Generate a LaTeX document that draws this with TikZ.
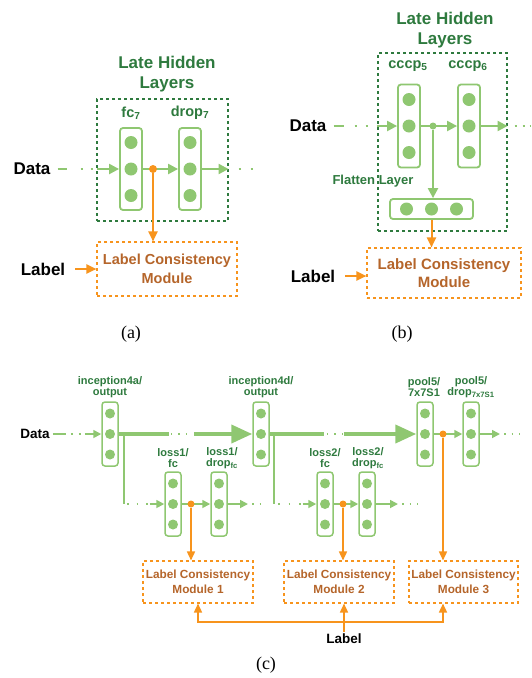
\documentclass[tikz,border=0pt]{standalone}
\usepackage{fontspec}
\setmainfont{Liberation Serif}
\setsansfont{Liberation Sans}
\usepackage{tikz}
\usetikzlibrary{arrows.meta,calc,positioning}

\definecolor{lgreen}{RGB}{143,199,113}
\definecolor{dgreen}{RGB}{46,122,62}
\definecolor{lorange}{RGB}{247,148,29}
\definecolor{lbrown}{RGB}{181,101,42}

\tikzset{
  layer/.style={draw=lgreen,line width=1.8pt,rounded corners=3pt,minimum width=22pt,minimum height=82pt,inner sep=0pt},
  slayer/.style={layer,line width=1.5pt,minimum width=16pt,minimum height=64pt},
  neuron/.style={circle,fill=lgreen,minimum size=13pt,inner sep=0pt},
  sneuron/.style={neuron,minimum size=10pt},
  hidbox/.style={draw=dgreen,dashed,line width=1.1pt,inner sep=0pt},
  lcbox/.style={draw=lorange,dashed,line width=1.1pt,inner sep=0pt,text=lbrown,align=center,
    font=\sffamily\bfseries\fontsize{14.5}{19}\selectfont},
  slcbox/.style={lcbox,font=\sffamily\bfseries\fontsize{11.8}{15}\selectfont},
  title/.style={text=dgreen,align=center,font=\sffamily\bfseries\fontsize{17}{20.5}\selectfont},
  lname/.style={text=dgreen,font=\sffamily\bfseries\fontsize{14.5}{17}\selectfont},
  slname/.style={text=dgreen,align=center,font=\sffamily\bfseries\fontsize{11}{11.5}\selectfont},
  io/.style={inner sep=2pt,font=\sffamily\bfseries\fontsize{17}{20}\selectfont},
  sio/.style={io,font=\sffamily\bfseries\fontsize{13.5}{16}\selectfont},
  capt/.style={font=\fontsize{18}{20}\selectfont},
  gline/.style={draw=lgreen,line width=2.2pt},
  garr/.style={gline,-{Triangle[length=10pt,width=10pt]}},
  sgline/.style={draw=lgreen,line width=1.7pt},
  sgarr/.style={sgline,-{Triangle[length=8pt,width=8pt]}},
  bigarr/.style={draw=lgreen,line width=4pt,-{Triangle[length=21pt,width=18pt]}},
  oarr/.style={draw=lorange,line width=2pt,-{Triangle[length=10pt,width=9pt]}},
  soarr/.style={draw=lorange,line width=1.6pt,-{Triangle[length=9pt,width=8pt]}},
  odot/.style={circle,fill=lorange,minimum size=8pt,inner sep=0pt},
  gdot/.style={circle,fill=lgreen,minimum size=7pt,inner sep=0pt},
}

\begin{document}
\begin{tikzpicture}[x=1pt,y=-1pt]
\useasboundingbox (0,0) rectangle (531,678);
%
% (a)
\node[title] (titleA) at (167,74) {Late Hidden\\Layers};
\node[hidbox,minimum width=131pt,minimum height=122pt] (boxA) at (162.5,160) {};
\node[lname] (fc7lab) at (131,113) {fc\textsubscript{7}};
\node[lname] (drop7lab) at (190,113) {drop\textsubscript{7}};
\node[layer] (fc7) at (131,169) {};
\node[layer] (drop7) at (190,169) {};
\node[io] (dataA) at (32,169) {Data};
\node[lcbox,minimum width=140pt,minimum height=54pt] (lcmA) at (167,269) {Label Consistency\\Module};
\node[io] (labA) at (43,269) {Label};
\coordinate (outA) at (255,169);
%
\draw[garr,shorten <=5pt,dash pattern=on 9pt off 14pt on 2pt off 8pt on 2pt off 4pt on 200pt] (dataA) -- (fc7);
\draw[garr] (fc7) -- (drop7);
\draw[garr] (drop7) -- (boxA.east |- drop7);
\draw[gline,dash pattern=on 0pt off 10pt on 2pt off 10pt on 2pt off 10pt] (boxA.east |- drop7) -- (outA);
\node[odot] (dA) at (153,169) {};
\draw[oarr] (dA) -- (dA |- lcmA.north);
\draw[oarr,shorten <=8pt] (labA) -- (labA -| lcmA.west);
\node[capt] (capA) at (131,334) {(a)};
%
% (b)
\node[title] (titleB) at (445,30) {Late Hidden\\Layers};
\node[hidbox,minimum width=129pt,minimum height=178pt] (boxB) at (442.5,142) {};
\node[lname] (c5lab) at (408,66) {cccp\textsubscript{5}};
\node[lname] (c6lab) at (468,66) {cccp\textsubscript{6}};
\node[layer,minimum height=83pt] (cccp5) at (409,126) {};
\node[layer,minimum height=83pt] (cccp6) at (469,126) {};
\node[io] (dataB) at (308,126) {Data};
\node[text=dgreen,font=\sffamily\bfseries\fontsize{13}{15}\selectfont] (flatlab) at (373,181) {Flatten Layer};
\node[layer,minimum width=83pt,minimum height=20pt] (flat) at (431.5,209) {};
\node[lcbox,minimum width=154pt,minimum height=50pt,font=\sffamily\bfseries\fontsize{15}{18}\selectfont] (lcmB) at (444,273) {Label Consistency\\Module};
\node[io] (labB) at (313,276) {Label};
\coordinate (outB) at (531,126);
%
\draw[garr,shorten <=5pt,dash pattern=on 10pt off 11pt on 2pt off 9pt on 2pt off 9pt on 200pt] (dataB) -- (cccp5);
\draw[garr] (cccp5) -- (cccp6);
\draw[garr] (cccp6) -- (boxB.east |- cccp6);
\draw[gline,dash pattern=on 0pt off 7pt on 2pt off 6pt on 2pt off 5pt on 10pt] (boxB.east |- cccp6) -- (outB);
\node[gdot] (dB) at (433,126) {};
\draw[garr] (dB) -- (dB |- flat.north);
\draw[oarr] (flat.south) -- (flat.south |- lcmB.north);
\draw[oarr,shorten <=8pt] (labB) -- (labB -| lcmB.west);
\node[capt] (capB) at (402,334) {(b)};
%
% neurons of (a) and (b)
\foreach \c in {fc7,drop7,cccp5,cccp6}
  \foreach \n/\d in {a/-26.5,b/0,c/26.5}
    \node[neuron] (\c\n) at ($(\c)+(0,\d)$) {};
\foreach \n/\d in {a/-25,b/0,c/25}
  \node[neuron] (flat\n) at ($(flat)+(\d,0)$) {};
%
% (c)
\node[sio] (dataC) at (35,434) {Data};
\node[slayer] (inc4a) at (110,434) {};
\node[slayer] (inc4d) at (261,434) {};
\node[slayer] (pool5) at (425,434) {};
\node[slayer] (pdrop) at (471,434) {};
\node[slayer] (l1fc) at (173,504) {};
\node[slayer] (l1drop) at (219,504) {};
\node[slayer] (l2fc) at (325,504) {};
\node[slayer] (l2drop) at (367,504) {};
\node[slname] (inc4alab) at (110,387) {inception4a/\\output};
\node[slname] (inc4dlab) at (261,387) {inception4d/\\output};
\node[slname] (pool5lab) at (424,387) {pool5/\\7x7S1};
\node[slname] (pdroplab) at (471,387) {pool5/\\drop\textsubscript{7x7S1}};
\node[slname] (l1fclab) at (173,458) {loss1/\\fc};
\node[slname] (l1droplab) at (222,458) {loss1/\\drop\textsubscript{fc}};
\node[slname] (l2fclab) at (325,458) {loss2/\\fc};
\node[slname] (l2droplab) at (368,458) {loss2/\\drop\textsubscript{fc}};
\foreach \c in {inc4a,inc4d,pool5,pdrop,l1fc,l1drop,l2fc,l2drop}
  \foreach \n/\d in {a/-20.5,b/0,c/20.5}
    \node[sneuron] (\c\n) at ($(\c)+(0,\d)$) {};
\node[slcbox,minimum width=110pt,minimum height=42pt] (lcm1) at (198,582) {Label Consistency\\Module 1};
\node[slcbox,minimum width=110pt,minimum height=42pt] (lcm2) at (339,582) {Label Consistency\\Module 2};
\node[slcbox,minimum width=109pt,minimum height=42pt] (lcm3) at (463.5,582) {Label Consistency\\Module 3};
\node[sio] (labC) at (344,639) {Label};
\coordinate (br1) at (124,434);
\coordinate (br2) at (274,434);
\coordinate (e1) at (248,504);
\coordinate (out1) at (265,504);
\coordinate (e2) at (398,504);
\coordinate (out2) at (418,504);
\coordinate (e3) at (500,434);
\coordinate (out3) at (520,434);
\coordinate (lsplit) at (344,622);
%
\draw[sgarr,shorten <=1pt,dash pattern=on 13pt off 5pt on 2pt off 6pt on 2pt off 4pt on 200pt] (dataC) -- (inc4a);
\draw[sgline,dash pattern=on 0pt off 52pt on 1.5pt off 6pt on 1.5pt off 6pt on 1.5pt off 100pt] (inc4a) -- (inc4d);
\draw[bigarr,dash pattern=on 50pt off 25pt on 200pt] (inc4a) -- (inc4d);
\draw[sgline,dash pattern=on 0pt off 57pt on 1.5pt off 6pt on 1.5pt off 6pt on 1.5pt off 100pt] (inc4d) -- (pool5);
\draw[bigarr,dash pattern=on 54pt off 20pt on 200pt] (inc4d) -- (pool5);
\draw[sgline] (br1) -- (br1 |- l1fc);
\draw[sgarr,dash pattern=on 0pt off 3pt on 1.5pt off 8pt on 1.5pt off 8pt on 1.5pt off 2pt on 100pt] (br1 |- l1fc) -- (l1fc);
\draw[sgline] (br2) -- (br2 |- l2fc);
\draw[sgarr,dash pattern=on 0pt off 4pt on 1.5pt off 9pt on 1.5pt off 9pt on 1.5pt off 2pt on 100pt] (br2 |- l2fc) -- (l2fc);
\draw[sgarr] (l1fc) -- (l1drop);
\draw[sgarr] (l1drop) -- (e1);
\draw[sgline,dash pattern=on 0pt off 4pt on 1.5pt off 6pt on 1.5pt off 6pt on 1.5pt] (e1) -- (out1);
\draw[sgarr] (l2fc) -- (l2drop);
\draw[sgarr] (l2drop) -- (e2);
\draw[sgline,dash pattern=on 0pt off 4pt on 1.5pt off 6pt on 1.5pt off 6pt on 1.5pt] (e2) -- (out2);
\draw[sgarr] (pool5) -- (pdrop);
\draw[sgarr] (pdrop) -- (e3);
\draw[sgline,dash pattern=on 0pt off 4pt on 1.5pt off 6pt on 1.5pt off 6pt on 1.5pt] (e3) -- (out3);
%
\node[odot,minimum size=7pt] (d1) at (191,504) {};
\node[odot,minimum size=7pt] (d2) at (343,504) {};
\node[odot,minimum size=7pt] (d3) at (443,434) {};
\draw[soarr] (d1) -- (d1 |- lcm1.north);
\draw[soarr] (d2) -- (d2 |- lcm2.north);
\draw[soarr] (d3) -- (d3 |- lcm3.north);
\draw[soarr] (labC.north) -- (labC |- lcm2.south);
\draw[soarr] (lsplit) -| (lcm1.south);
\draw[soarr] (lsplit) -| (d3 |- lcm3.south);
\node[capt] (capC) at (266,665) {(c)};
\end{tikzpicture}
\end{document}
